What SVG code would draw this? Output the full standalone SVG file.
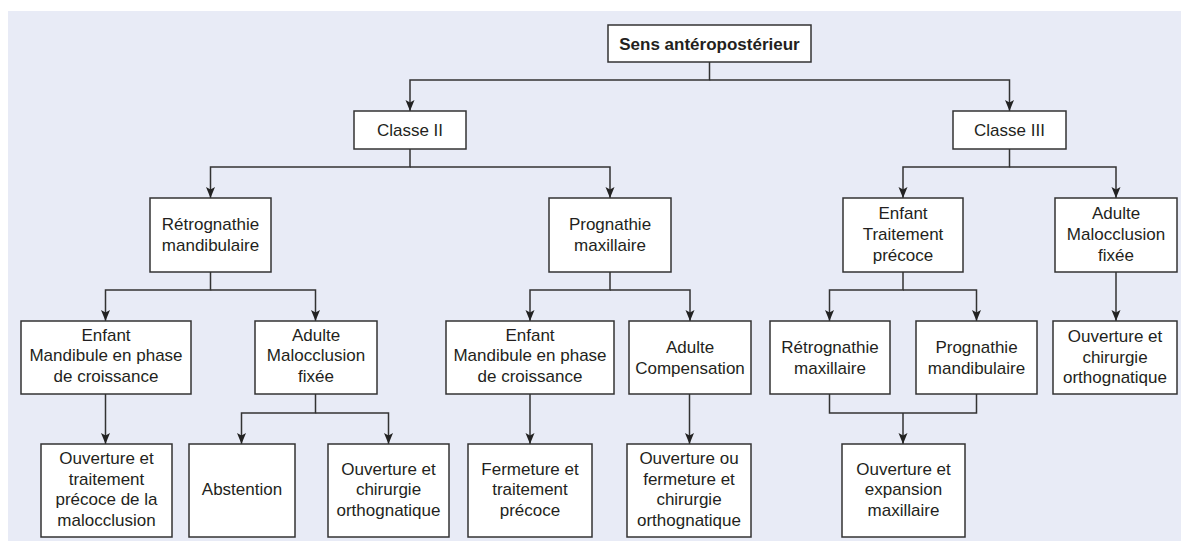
<svg xmlns="http://www.w3.org/2000/svg" width="1181" height="541" viewBox="0 0 1181 541">
<style>
.box{fill:#fff;stroke:#333;stroke-width:1.5}
.t{font-family:"Liberation Sans",Arial,sans-serif;font-size:17px;fill:#231f20;text-anchor:middle}
.b{font-weight:bold}
.c{fill:none;stroke:#333;stroke-width:1.5}
.a{marker-end:url(#arr)}
</style>
<defs>
<marker id="arr" markerUnits="userSpaceOnUse" markerWidth="12" markerHeight="12" viewBox="0 0 12 12" refX="11" refY="6" orient="auto">
<path d="M0,1.5 L11,6 L0,10.5 L2.5,6 Z" fill="#222"/>
</marker>
</defs>
<rect x="0" y="0" width="1181" height="541" fill="#fff"/>
<rect x="8" y="11" width="1173" height="530" fill="#E8EBF6"/>

<g id="connectors">
<path class="c a" d="M709.5,62 V80 H410 V111"/>
<path class="c a" d="M709.5,80 H1009.5 V111"/>
<path class="c a" d="M410,149 V167 H210.5 V198"/>
<path class="c a" d="M410,167 H610 V198"/>
<path class="c a" d="M1009.5,149 V167 H903 V198"/>
<path class="c a" d="M1009.5,167 H1116 V198"/>
<path class="c a" d="M210.5,272 V290 H105.5 V321"/>
<path class="c a" d="M210.5,290 H315.5 V321"/>
<path class="c a" d="M610,272 V290 H530 V321"/>
<path class="c a" d="M610,290 H690 V321"/>
<path class="c a" d="M903,272 V290 H829.5 V321"/>
<path class="c a" d="M903,290 H976.5 V321"/>
<path class="c a" d="M1116,272 V321"/>
<path class="c a" d="M105.5,394 V444"/>
<path class="c a" d="M315.5,394 V413 H241.5 V444"/>
<path class="c a" d="M315.5,413 H388.5 V444"/>
<path class="c a" d="M530,394 V444"/>
<path class="c a" d="M689.5,394 V444"/>
<path class="c" d="M829.5,394 V413 H976.5 V394"/>
<path class="c a" d="M903,413 V444"/>
</g>

<g id="root"><rect class="box" x="608" y="25" width="203" height="37"/><text class="t b" x="709.5" y="49.5">Sens antéropostérieur</text></g>
<g id="classe2"><rect class="box" x="354" y="111" width="112" height="38"/><text class="t" x="410" y="136">Classe II</text></g>
<g id="classe3"><rect class="box" x="953" y="111" width="113" height="38"/><text class="t" x="1009.5" y="136">Classe III</text></g>

<g id="retro-mand"><rect class="box" x="150" y="198" width="121" height="74"/><text class="t" x="210.5" y="229.5">Rétrognathie</text><text class="t" x="210.5" y="251">mandibulaire</text></g>
<g id="progn-max"><rect class="box" x="549" y="198" width="122" height="74"/><text class="t" x="610" y="229.5">Prognathie</text><text class="t" x="610" y="251">maxillaire</text></g>
<g id="enfant-tp"><rect class="box" x="843" y="198" width="120" height="74"/><text class="t" x="903" y="219">Enfant</text><text class="t" x="903" y="240">Traitement</text><text class="t" x="903" y="261">précoce</text></g>
<g id="adulte-mf3"><rect class="box" x="1055" y="198" width="122" height="74"/><text class="t" x="1116" y="219">Adulte</text><text class="t" x="1116" y="240">Malocclusion</text><text class="t" x="1116" y="261">fixée</text></g>

<g id="enfant-mand1"><rect class="box" x="21" y="321" width="170" height="73"/><text class="t" x="106" y="340.5">Enfant</text><text class="t" x="106" y="361">Mandibule en phase</text><text class="t" x="106" y="381.5">de croissance</text></g>
<g id="adulte-mf2"><rect class="box" x="255" y="321" width="122" height="73"/><text class="t" x="316" y="340.5">Adulte</text><text class="t" x="316" y="361">Malocclusion</text><text class="t" x="316" y="381.5">fixée</text></g>
<g id="enfant-mand2"><rect class="box" x="446" y="321" width="168" height="73"/><text class="t" x="530" y="340.5">Enfant</text><text class="t" x="530" y="361">Mandibule en phase</text><text class="t" x="530" y="381.5">de croissance</text></g>
<g id="adulte-comp"><rect class="box" x="629" y="321" width="122" height="73"/><text class="t" x="690" y="352.5">Adulte</text><text class="t" x="690" y="374">Compensation</text></g>
<g id="retro-max"><rect class="box" x="770" y="321" width="120" height="73"/><text class="t" x="830" y="352.5">Rétrognathie</text><text class="t" x="830" y="374">maxillaire</text></g>
<g id="progn-mand"><rect class="box" x="916" y="321" width="121" height="73"/><text class="t" x="976.5" y="352.5">Prognathie</text><text class="t" x="976.5" y="374">mandibulaire</text></g>
<g id="ouv-chir3"><rect class="box" x="1053" y="321" width="124" height="73"/><text class="t" x="1115" y="342">Ouverture et</text><text class="t" x="1115" y="362.5">chirurgie</text><text class="t" x="1115" y="383">orthognatique</text></g>

<g id="ouv-trait"><rect class="box" x="41" y="444" width="131" height="93"/><text class="t" x="106.5" y="464">Ouverture et</text><text class="t" x="106.5" y="484.5">traitement</text><text class="t" x="106.5" y="505">précoce de la</text><text class="t" x="106.5" y="525.5">malocclusion</text></g>
<g id="abstention"><rect class="box" x="189" y="444" width="106" height="93"/><text class="t" x="242" y="495">Abstention</text></g>
<g id="ouv-chir2"><rect class="box" x="328" y="444" width="121" height="93"/><text class="t" x="388.5" y="474.5">Ouverture et</text><text class="t" x="388.5" y="495">chirurgie</text><text class="t" x="388.5" y="515.5">orthognatique</text></g>
<g id="ferm-trait"><rect class="box" x="468" y="444" width="124" height="93"/><text class="t" x="530" y="474.5">Fermeture et</text><text class="t" x="530" y="495">traitement</text><text class="t" x="530" y="515.5">précoce</text></g>
<g id="ouv-ferm"><rect class="box" x="627" y="444" width="124" height="93"/><text class="t" x="689" y="464">Ouverture ou</text><text class="t" x="689" y="484.5">fermeture et</text><text class="t" x="689" y="505">chirurgie</text><text class="t" x="689" y="525.5">orthognatique</text></g>
<g id="ouv-exp"><rect class="box" x="842" y="444" width="123" height="93"/><text class="t" x="903.5" y="474.5">Ouverture et</text><text class="t" x="903.5" y="495">expansion</text><text class="t" x="903.5" y="515.5">maxillaire</text></g>
</svg>
